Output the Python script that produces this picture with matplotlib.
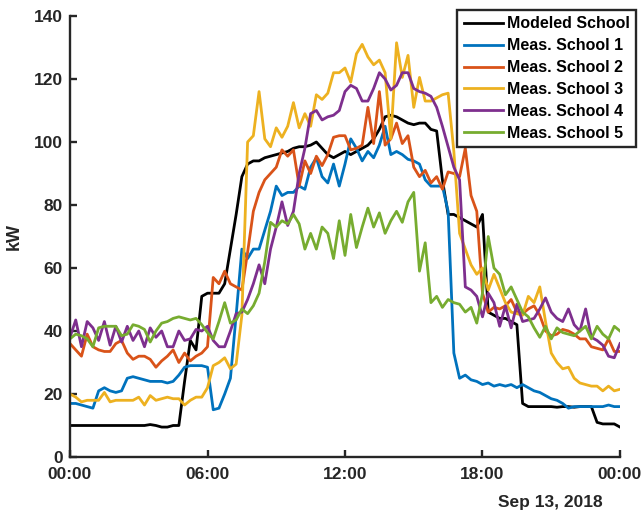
import numpy as np
import matplotlib
matplotlib.use('Agg')
from matplotlib import pyplot as plt

plt.rcParams['font.family'] = ['Liberation Sans', 'DejaVu Sans']
plt.rcParams['font.weight'] = 'bold'

# 15-minute samples over one day (hours)
timer = np.arange(97) * 0.25

modeled = [10, 10, 10, 10, 10, 10, 10, 10, 10, 10, 10, 10, 10, 10, 10.3, 10, 9.5, 9.5, 10, 10,
           24, 37, 34, 51, 52, 52, 52, 55, 66, 77, 89, 93, 94, 94, 95, 95.5, 96, 96.5, 97, 98,
           98.5, 98.5, 99, 100, 98, 96, 95, 96, 97, 96, 97, 98, 99, 101, 104, 108, 108.5, 108, 107, 106,
           105.5, 106, 106, 104, 103.5, 88, 77, 77, 76, 75, 74, 73, 77, 46, 45, 44, 44, 43, 42, 17,
           16, 16, 16, 16, 16, 15.8, 16, 16, 15.8, 16, 16, 16, 11, 10.5, 10.5, 10.5, 9.5]
skole1 = [17, 17, 16.5, 16, 15.5, 21, 22, 21, 20.5, 21, 25, 25.5, 25, 24.5, 24, 24, 24, 23.5, 24, 26,
          28.5, 29, 29, 29, 28.5, 15, 15.5, 20, 25, 45, 66, 63, 66, 66, 72, 78, 86, 83, 84, 84,
          86, 85, 92, 95, 89, 87, 93, 86, 93, 101, 98, 94, 97, 95, 99, 105, 96, 97, 96, 94.5,
          94, 93, 88, 86, 86, 86, 78, 33, 25, 26, 24.5, 24, 23, 23.5, 22.5, 23, 22.5, 23, 22, 23,
          22, 21, 20.5, 19.5, 18.5, 18, 17, 15.5, 16, 16, 16, 16, 16, 16, 16.5, 16, 16]
skole2 = [36, 34, 32, 39, 35, 34, 33.5, 33.5, 36, 37, 33, 31, 32, 32, 31, 28.5, 30.5, 32, 34, 30,
          33, 30.5, 32, 33, 35, 57, 55, 59, 55, 54, 53, 65, 78, 84, 88, 90, 92, 97.5, 95.5, 97.5,
          86, 94, 90, 95.5, 92.5, 96, 101.5, 102, 102, 97.5, 98, 99, 111, 99.5, 116, 99, 101, 106, 99.5, 102,
          92, 89, 91, 87, 89, 85, 90.5, 90, 89, 98, 83, 78, 52, 46, 47.5, 47, 48, 50, 46, 45.5,
          47, 48, 45, 40, 38.5, 39, 40.5, 40, 39, 37.5, 37.5, 35, 34.5, 34, 37.5, 33.5, 33.5]
skole3 = [20, 19, 17.5, 18, 18, 18, 20.5, 17.5, 18, 18, 18, 18, 19, 16.5, 19.5, 18, 18.5, 19, 18.5, 18.5,
          16.5, 18, 19, 19, 22, 29, 30, 31.5, 28, 29.5, 45, 100, 102, 116, 101, 98.5, 104.5, 101.5, 105, 112.5,
          104.5, 109, 105, 115, 113.5, 115.5, 122, 122, 123.5, 119, 128, 131, 127, 124.5, 126, 122, 101, 131.5, 120.5, 127.5,
          111, 120.5, 113, 113, 114, 115, 115.5, 97, 71, 66, 61, 58, 60, 53, 58, 53.5, 49, 46, 45.5, 45,
          51, 49, 54, 43, 33, 30, 28, 28.5, 25, 23.5, 23, 22.5, 22.5, 21, 22.5, 21, 21.5]
skole4 = [38, 43.5, 35, 43, 41, 37, 43, 35.5, 41.5, 36.5, 41.5, 37, 40, 35, 41, 38, 40, 35, 35, 40,
          37, 37.5, 40.5, 40, 41.5, 37, 35, 35, 40, 45.5, 46, 50, 55, 61, 55, 66, 73, 81, 73.5, 78,
          90, 98, 109, 110, 107, 108, 108.5, 110, 116, 118, 117, 113, 113, 117, 122, 120, 116.5, 118, 122, 122,
          117, 116, 115.5, 114.5, 111, 105, 98.5, 92, 88, 54, 53, 51, 44.5, 52, 49, 41.5, 48, 41, 48.5, 43,
          43.5, 44, 47, 50.5, 46, 44, 43, 47, 42, 40, 47, 38, 37, 35.5, 32, 31.5, 36]
skole5 = [37.5, 39, 38.5, 37.5, 35, 41, 41.5, 41.5, 41.5, 38.5, 39, 42, 41.5, 40.5, 36.5, 40, 42.5, 43, 44, 44.5,
          44, 43.5, 44, 42, 39.5, 37.5, 43, 49, 42.5, 43.5, 47, 45.5, 48, 52, 62, 74.5, 73, 75, 74, 77,
          74, 66, 71, 66, 73, 71, 63, 75, 64, 77, 66.5, 73, 79, 73, 77.5, 71, 75, 78, 74.5, 81,
          84, 59, 68, 49, 51, 47.5, 50, 49, 48.5, 46, 47.5, 42.5, 52, 70, 60, 58, 51.5, 54, 50, 46,
          44.5, 41, 38, 41.5, 37.5, 41, 39.5, 39, 38.5, 40, 41.5, 37.5, 41.5, 39, 37.5, 41.5, 40]

navn = ['Modeled School', 'Meas. School 1', 'Meas. School 2', 'Meas. School 3',
        'Meas. School 4', 'Meas. School 5']
farger = ['#000000', '#0072BD', '#D95319', '#EDB120', '#7E2F8E', '#77AC30']
x_ticks = [0, 6, 12, 18, 24]
x_ticklabels = ['00:00', '06:00', '12:00', '18:00', '00:00']

fig = plt.figure(figsize=(6.44, 5.11), dpi=100)
ax = fig.add_axes([70/644, 1-457/511, 550/644, 441/511])

for y, n, c in zip([modeled, skole1, skole2, skole3, skole4, skole5], navn, farger):
    ax.plot(timer, y, color=c, lw=2.0, label=n)

akse = '#262626'
ax.set_xlim(0, 24)
ax.set_ylim(0, 140)
ax.set_xticks(x_ticks)
ax.set_xticklabels(x_ticklabels)
ax.set_yticks(range(0, 141, 20))
for s in ['top', 'right']:
    ax.spines[s].set_visible(False)
for s in ['left', 'bottom']:
    ax.spines[s].set_color(akse)
    ax.spines[s].set_linewidth(1.7)
ax.tick_params(direction='in', length=5, width=1.7, color=akse, labelcolor=akse,
               labelsize=12.5)
ax.tick_params(axis='x', pad=7)
ax.tick_params(axis='y', pad=5)
ax.set_ylabel('kW', fontsize=13, fontweight='bold', color=akse)
ax.yaxis.set_label_coords(-0.085, 0.5)
ax.text(0.969, -0.086, 'Sep 13, 2018', transform=ax.transAxes, ha='right', va='top',
        fontsize=12.5, fontweight='bold', color=akse)

leg = ax.legend(loc='upper right', bbox_to_anchor=(636/644, 1-10/511),
                bbox_transform=fig.transFigure, fancybox=False, framealpha=1,
                edgecolor='#262626', fontsize=11.5, handlelength=2.45,
                borderaxespad=0, borderpad=0.4, labelspacing=0.43, handletextpad=0.25)
leg.get_frame().set_linewidth(1.7)
for t in leg.get_texts():
    t.set_fontweight('bold')

fig.savefig('out.png', dpi=100)
